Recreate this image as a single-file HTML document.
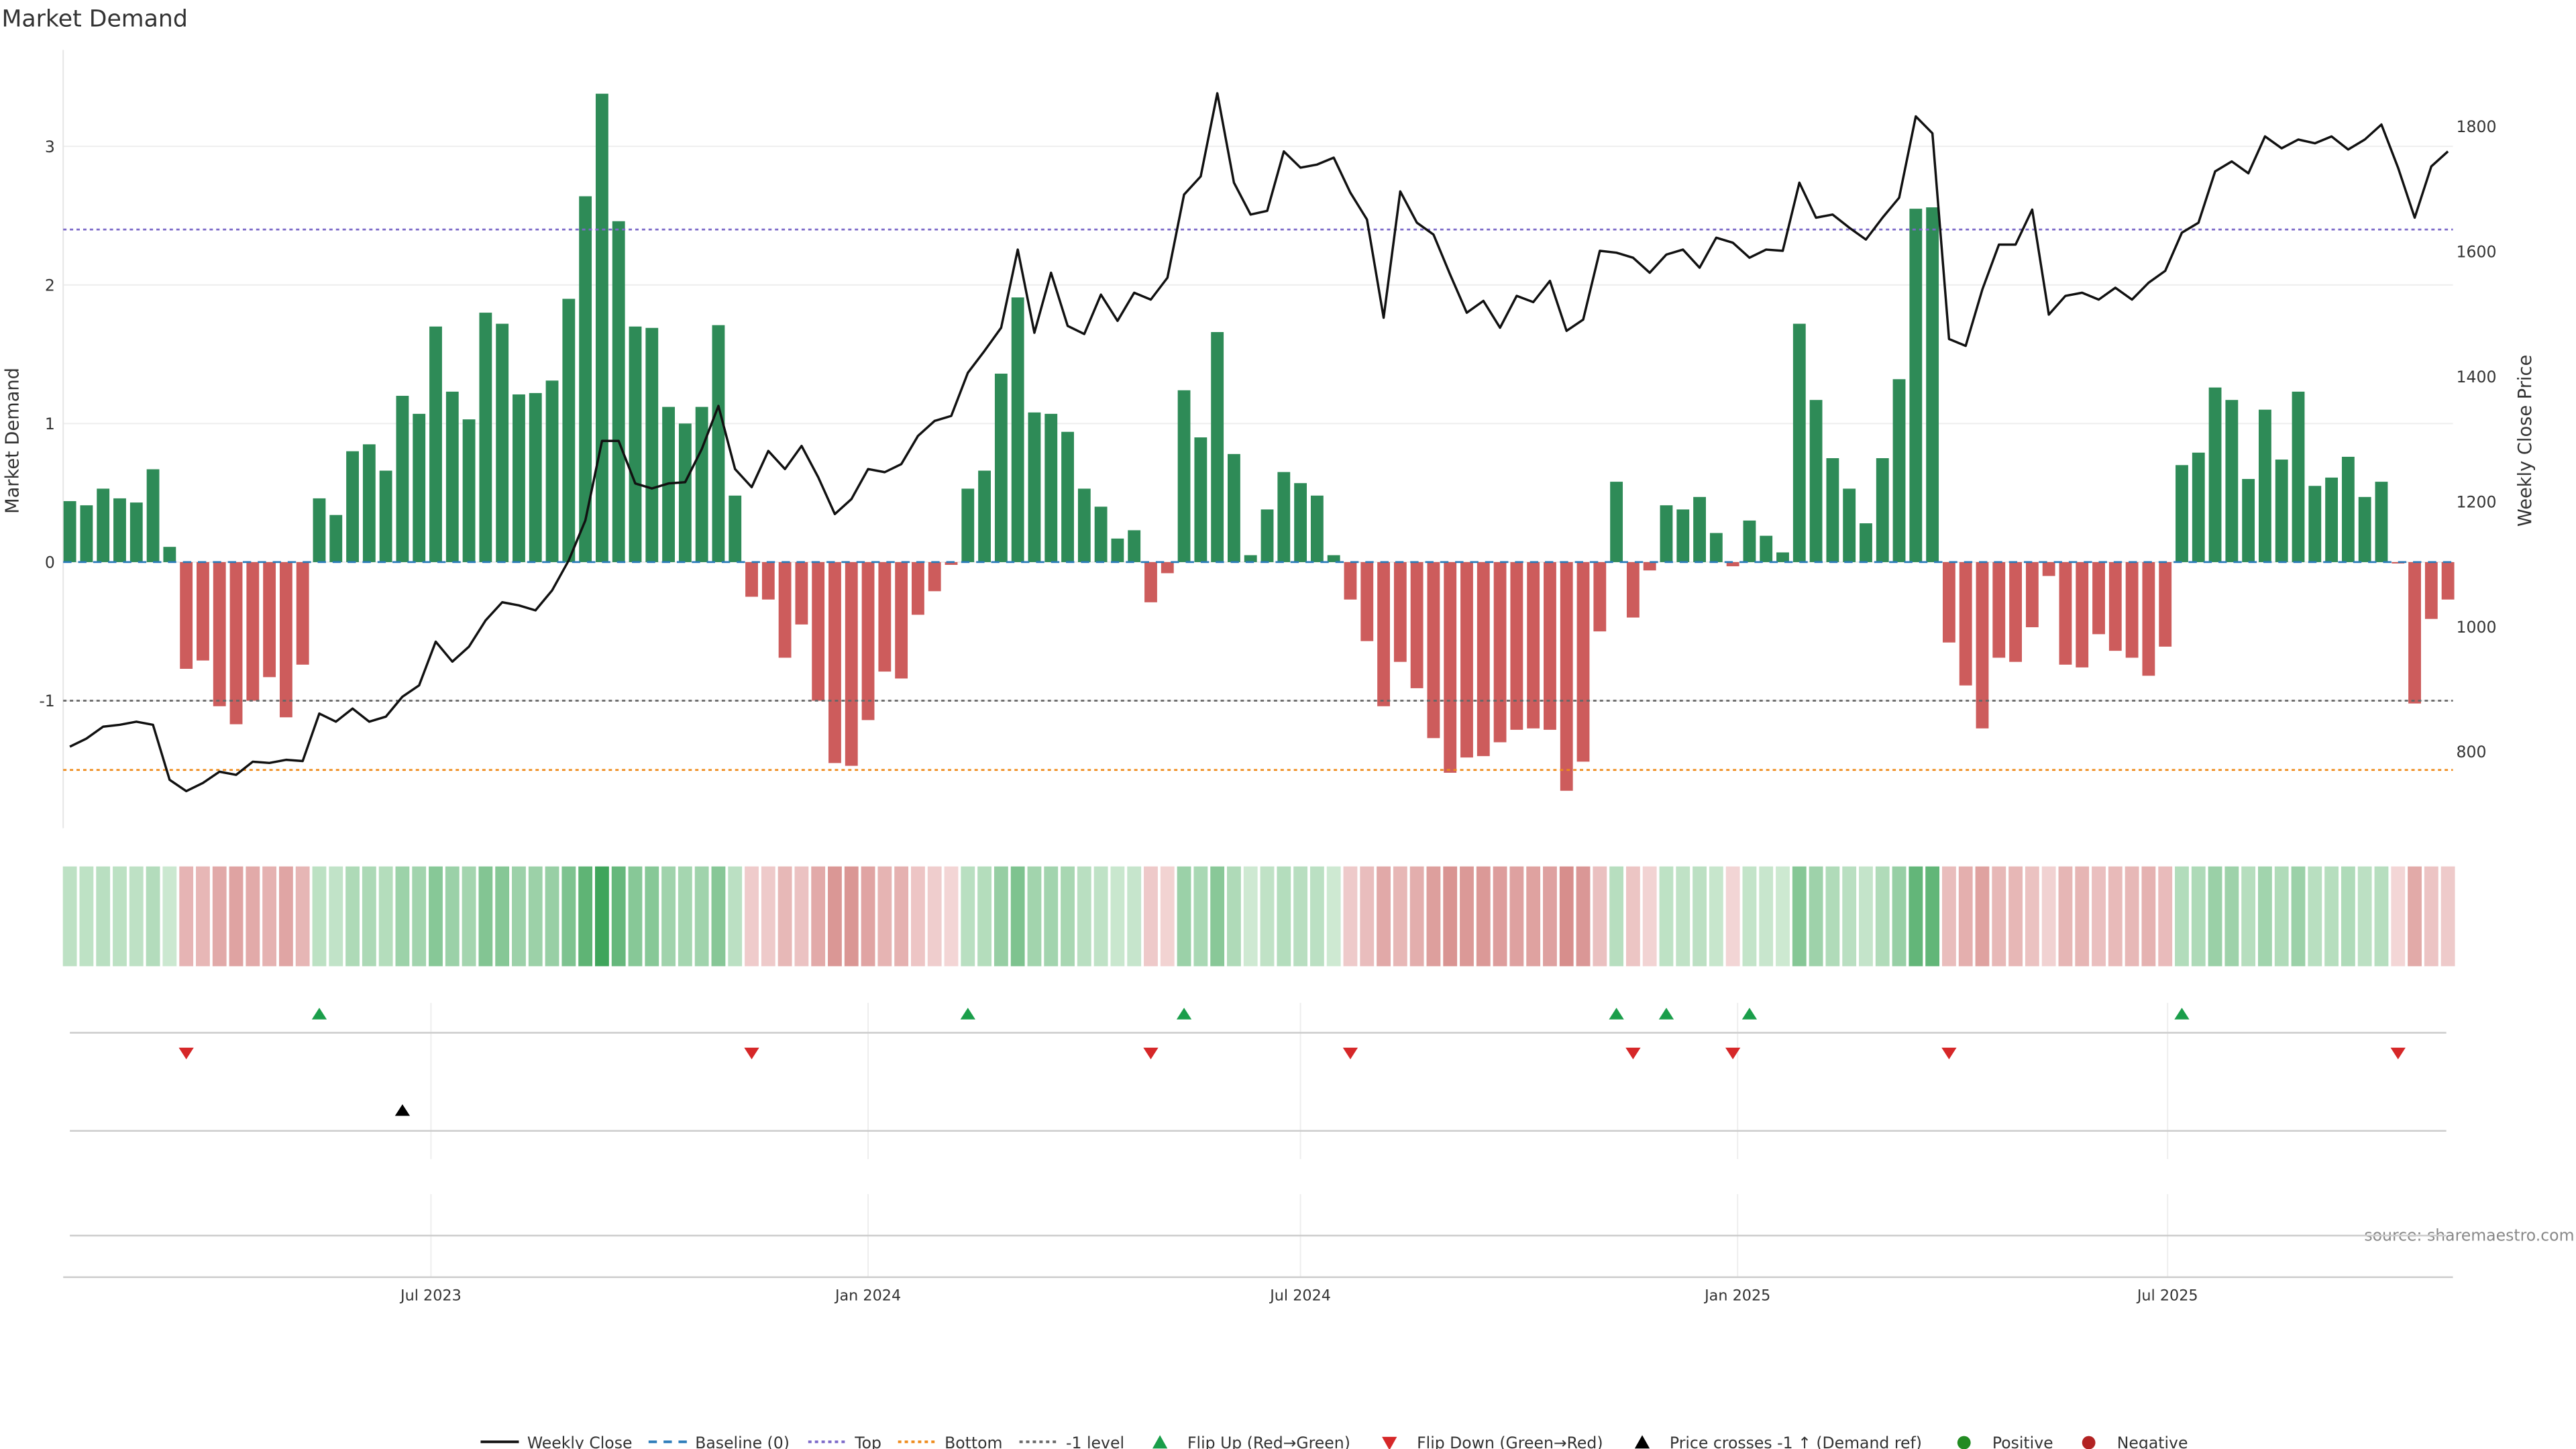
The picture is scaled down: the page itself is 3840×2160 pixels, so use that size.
<!DOCTYPE html>
<html><head><meta charset="utf-8"><style>
html,body{margin:0;padding:0;background:#fff;}
svg{display:block;font-family:"DejaVu Sans","Liberation Sans",sans-serif;}
</style></head><body>
<svg id="chart" xmlns="http://www.w3.org/2000/svg" width="3840" height="2160" viewBox="0 0 1549 871.3">
<rect width="1549" height="871.3" fill="#fff"/>
<text x="1" y="16" font-size="14" fill="#333">Market Demand</text>
<text transform="translate(11,265) rotate(-90)" font-size="11" fill="#333" text-anchor="middle">Market Demand</text>
<text transform="translate(1522,265) rotate(-90)" font-size="11" fill="#333" text-anchor="middle">Weekly Close Price</text>
<text x="1548" y="746" font-size="9.5" fill="#888" text-anchor="end">source: sharemaestro.com</text>
<g id="main"></g>
<g id="legend"></g>
</svg>
<script>
const demand = [0.44,0.41,0.53,0.46,0.43,0.67,0.11,-0.77,-0.71,-1.04,-1.17,-1.0,-0.83,-1.12,-0.74,0.46,0.34,0.80,0.85,0.66,1.2,1.07,1.7,1.23,1.03,1.8,1.72,1.21,1.22,1.31,1.9,2.64,3.38,2.46,1.7,1.69,1.12,1.0,1.12,1.71,0.48,-0.25,-0.27,-0.69,-0.45,-1.0,-1.45,-1.47,-1.14,-0.79,-0.84,-0.38,-0.21,-0.02,0.53,0.66,1.36,1.91,1.08,1.07,0.94,0.53,0.40,0.17,0.23,-0.29,-0.08,1.24,0.9,1.66,0.78,0.05,0.38,0.65,0.57,0.48,0.05,-0.27,-0.57,-1.04,-0.72,-0.91,-1.27,-1.52,-1.41,-1.40,-1.30,-1.21,-1.20,-1.21,-1.65,-1.44,-0.5,0.58,-0.4,-0.06,0.41,0.38,0.47,0.21,-0.03,0.30,0.19,0.07,1.72,1.17,0.75,0.53,0.28,0.75,1.32,2.55,2.56,-0.58,-0.89,-1.2,-0.69,-0.72,-0.47,-0.1,-0.74,-0.76,-0.52,-0.64,-0.69,-0.82,-0.61,0.70,0.79,1.26,1.17,0.60,1.10,0.74,1.23,0.55,0.61,0.76,0.47,0.58,-0.01,-1.02,-0.41,-0.27];
const price = [808,821,840,843,848,843,755,737,750,768,763,784,782,787,785,861,848,869,848,856,888,906,976,944,968,1010,1039,1034,1026,1058,1106,1170,1297,1297,1229,1221,1229,1231,1284,1353,1252,1223,1281,1252,1289,1239,1180,1204,1252,1247,1260,1305,1329,1337,1406,1441,1478,1603,1470,1566,1481,1468,1531,1489,1534,1523,1558,1691,1720,1853,1710,1659,1665,1760,1734,1739,1750,1694,1651,1494,1696,1646,1627,1563,1502,1521,1478,1529,1519,1553,1473,1491,1601,1598,1590,1566,1595,1603,1574,1622,1614,1590,1603,1601,1710,1654,1659,1638,1619,1654,1686,1816,1789,1460,1449,1539,1611,1611,1667,1499,1529,1534,1523,1542,1523,1550,1569,1630,1646,1728,1744,1725,1784,1765,1779,1773,1784,1763,1779,1803,1734,1654,1736,1760];
const leftTicks = [-1,0,1,2,3];
const rightTicks = [800,1000,1200,1400,1600,1800];
const dateTicks = ["2023-07-01","2024-01-01","2024-07-01","2025-01-01","2025-07-01"];
const dateLabels = ["Jul 2023","Jan 2024","Jul 2024","Jan 2025","Jul 2025"];
const levels = [2.4,-1,-1.5];
const crossIdx = [20];
const startDate = "2023-01-30";

const NS="http://www.w3.org/2000/svg";
const g=document.getElementById('main');
function mk(tag,attrs,parent){const e=document.createElementNS(NS,tag);for(const k in attrs)e.setAttribute(k,attrs[k]);(parent||g).appendChild(e);return e;}
const x=i=>42+i*10;
const y=v=>338-v*83.33;
const yp=p=>76+(1800-p)*0.376;
const xd=d=>x((new Date(d)-new Date(startDate))/604800000);
const L=38,R=1475;

let e;
for(const t of leftTicks){
e=mk('line',{x1:L,x2:R,y1:y(t),y2:y(t),stroke:'#eeeeee','stroke-width':0.8});


e=mk('text',{x:33,y:y(t)+3.5,'font-size':9.5,fill:'#333','text-anchor':'end'});e.textContent=t;


}
for(const t of rightTicks){
e=mk('text',{x:1477,y:yp(t)+3.5,'font-size':9.5,fill:'#333'});e.textContent=t;


}
e=mk('line',{x1:L,x2:L,y1:30,y2:498,stroke:'#e6e6e6','stroke-width':0.8});



demand.forEach((v,i)=>{
const b=mk('rect',{x:x(i)-3.8,width:7.6,y:Math.min(y(v),y(0)),height:Math.abs(y(v)-y(0)),fill:v>=0?'#2e8b57':'#cd5c5c'});


});
e=mk('line',{x1:L,x2:R,y1:y(0),y2:y(0),stroke:'#2b7bb9','stroke-width':1.1,'stroke-dasharray':'5,4'});


const lc=['#7b68c8','#666','#ee8a1a'];
const ln=['top-level-line','minus-one-level-line','bottom-level-line'];
levels.forEach((lv,k)=>{
e=mk('line',{x1:L,x2:R,y1:y(lv),y2:y(lv),stroke:lc[k],'stroke-width':1.1,'stroke-dasharray':'2,2'});


});
e=mk('polyline',{points:price.map((p,i)=>x(i)+','+yp(p)).join(' '),fill:'none',stroke:'#111','stroke-width':1.4,'stroke-linejoin':'round'});



function lerp(a,b,t){return a.map((c,k)=>Math.round(c+(b[k]-c)*t));}
demand.forEach((v,i)=>{
let c;
if(v>=0){const t=Math.min(v/3.4,1);c=lerp([208,234,212],[62,165,90],t);}
else{const t=Math.min(-v/1.7,1);c=lerp([243,214,214],[214,140,138],t);}
const r=mk('rect',{x:x(i)-4.2,width:8.4,y:521,height:60,fill:'rgb('+c.join(',')+')'});


});

dateTicks.forEach((d,k)=>{
const xx=xd(d);
e=mk('line',{x1:xx,x2:xx,y1:603,y2:697,stroke:'#eeeeee','stroke-width':0.8});


e=mk('line',{x1:xx,x2:xx,y1:718,y2:768,stroke:'#eeeeee','stroke-width':0.8});


e=mk('text',{x:xx,y:782,'font-size':9,fill:'#333','text-anchor':'middle'});e.textContent=dateLabels[k];


});
[621,680,743].forEach(yy=>{
e=mk('line',{x1:42,x2:1471,y1:yy,y2:yy,stroke:'#cccccc','stroke-width':1});


});
e=mk('line',{x1:L,x2:R,y1:768,y2:768,stroke:'#cccccc','stroke-width':1});


for(let i=1;i<demand.length;i++){
const a=demand[i-1],b=demand[i];
if(a<0&&b>=0){const xx=x(i);
e=mk('polygon',{points:`${xx-4.5},613 ${xx+4.5},613 ${xx},606`,fill:'#1a9e4a'});

}
if(a>=0&&b<0){const xx=x(i);
e=mk('polygon',{points:`${xx-4.5},630 ${xx+4.5},630 ${xx},637`,fill:'#d62728'});

}
}
crossIdx.forEach(i=>{const xx=x(i);
e=mk('polygon',{points:`${xx-4.5},671 ${xx+4.5},671 ${xx},664`,fill:'#000'});

});

const lg=document.getElementById('legend');
const items=[['line','#111','','Weekly Close',289],['line','#2b7bb9','5,4','Baseline (0)',390],['line','#7b68c8','2,2','Top',486],['line','#ee8a1a','2,2','Bottom',540],['line','#666','2,2','-1 level',613],['up','#1a9e4a','','Flip Up (Red→Green)',693],['down','#d62728','','Flip Down (Green→Red)',831],['up','#000','','Price crosses -1 ↑ (Demand ref)',983],['dot','#228b22','','Positive',1177],['dot','#b22222','','Negative',1252]];
items.forEach(it=>{
const [t,c,da,lab,xx]=it;
const gi=mk('g',{},lg);


if(t==='line')mk('line',{x1:xx,x2:xx+23,y1:867,y2:867,stroke:c,'stroke-width':1.6,'stroke-dasharray':da},gi);
if(t==='up')mk('polygon',{points:`${xx}, 871 ${xx+9},871 ${xx+4.5},863`,fill:c},gi);
if(t==='down')mk('polygon',{points:`${xx}, 864 ${xx+9},864 ${xx+4.5},872`,fill:c},gi);
if(t==='dot')mk('circle',{cx:xx+4,cy:867.5,r:4,fill:c},gi);
const tx=mk('text',{x:xx+(t==='line'?28:21),y:871,'font-size':9.5,fill:'#333'},gi);tx.textContent=lab;
});
</script>
</body></html>
